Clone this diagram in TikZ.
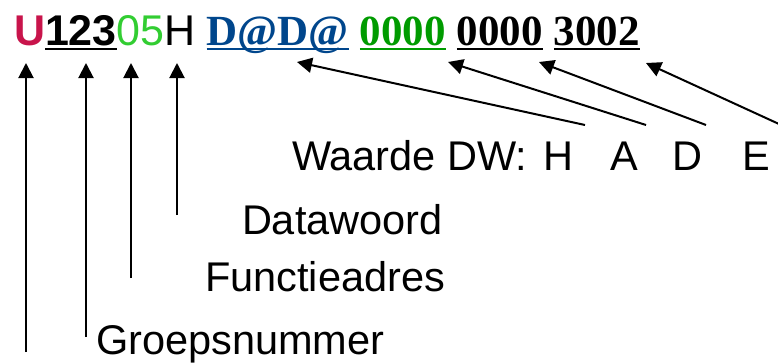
\documentclass[tikz,border=0pt]{standalone}
\usepackage{fontspec}
\setmainfont{Liberation Sans}
\newfontfamily\timesfont{Liberation Serif}
\usetikzlibrary{positioning, arrows.meta}
\definecolor{uitred}{RGB}{200,20,75}
\definecolor{lichtgroen}{RGB}{50,205,50}
\definecolor{donkerblauw}{RGB}{0,70,140}
\definecolor{groen}{RGB}{0,155,0}

\begin{document}
\begin{tikzpicture}[x=1pt,y=-1pt,
    every node/.style={inner sep=0pt,outer sep=0pt},
    kop/.style={font=\fontsize{43}{50}\selectfont},
    kopserif/.style={font=\fontsize{43}{50}\selectfont\timesfont\bfseries},
    uitleg/.style={font=\fontsize{41.5}{48}\selectfont},
    pijl/.style={-{Triangle[width=15pt,length=15pt]},line width=2pt},
    streep/.style={line width=2pt}]

  \useasboundingbox (0,0) rectangle (778,362);

  % bovenste regel
  \node[kop,anchor=base west,text=uitred] (u) at (14,45) {\bfseries U};
  \node[kop,base right=0pt of u] (grp) {\bfseries 123};
  \node[kop,base right=0pt of grp,text=lichtgroen] (fn) {05};
  \node[kop,base right=0pt of fn] (dw) {H};
  \node[kopserif,base right=11pt of dw,text=donkerblauw] (hv) {D@D@};
  \node[kopserif,base right=11pt of hv,text=groen] (av) {0000};
  \node[kopserif,base right=11pt of av] (dv) {0000};
  \node[kopserif,base right=11pt of dv] (ev) {3002};

  \foreach \n/\c in {grp/black,hv/donkerblauw,av/groen,dv/black,ev/black}
    \draw[streep,\c] ([yshift=-4pt]\n.base west) -- ([yshift=-4pt]\n.base east);

  % uitleg
  \node[uitleg,anchor=base west] (waarde) at (292,170) {Waarde DW:};
  \node[uitleg,base right=16pt of waarde] (lh) {H};
  \node[uitleg,base right=37pt of lh] (la) {A};
  \node[uitleg,base right=35pt of la] (ld) {D};
  \node[uitleg,base right=40pt of ld] (le) {E};
  \node[uitleg,anchor=base west] (datawoord) at (242,234) {Datawoord};
  \node[uitleg,anchor=base west] (functie) at (205,291) {Functieadres};
  \node[uitleg,anchor=base west] (groep) at (96,354) {Groepsnummer};

  % pijlen
  \coordinate (vu) at (26,352);  \coordinate (tu) at (26,63);
  \coordinate (vg) at (86,337);  \coordinate (tg) at (86,63);
  \coordinate (vf) at (131,278); \coordinate (tf) at (131,63);
  \coordinate (vd) at (177,215); \coordinate (td) at (177,63);
  \coordinate (sh) at (585,125); \coordinate (th) at (297,62);
  \coordinate (sa) at (646,125); \coordinate (ta) at (448,62);
  \coordinate (sd) at (706,125); \coordinate (td2) at (539,62);
  \coordinate (se) at (779,124); \coordinate (te) at (646,63);

  \foreach \a/\b in {vu/tu,vg/tg,vf/tf,vd/td,sh/th,sa/ta,sd/td2,se/te}
    \draw[pijl] (\a) -- (\b);
\end{tikzpicture}
\end{document}
